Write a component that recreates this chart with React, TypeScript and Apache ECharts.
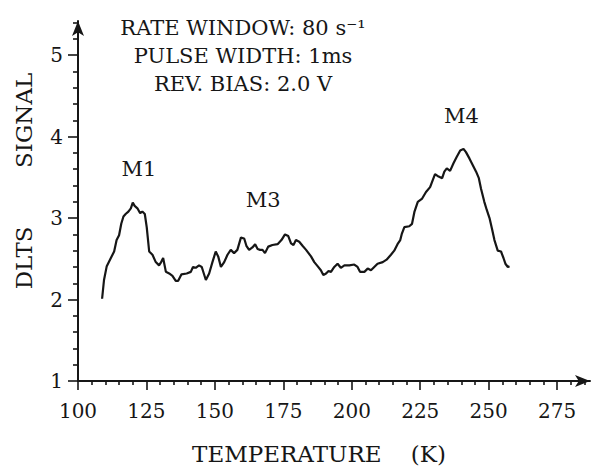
import React, { useEffect, useRef } from 'react';
import * as echarts from 'echarts';

const temperature = [
  108.8, 109.5, 110.5, 112.0, 113.2, 114.1, 115.0, 115.8, 116.6, 117.4, 118.4, 119.3, 120.0, 120.7, 121.7,
  122.7, 123.5, 124.4, 125.1, 126.0, 127.2, 128.4, 129.6, 130.2, 131.1, 132.1, 133.3, 134.5, 135.7, 136.6,
  137.8, 139.7, 141.2, 142.0, 143.0, 144.2, 145.2, 146.7, 147.9, 149.1, 150.3, 151.2, 152.2, 153.4, 154.6,
  155.8, 157.0, 158.2, 159.5, 160.7, 161.5, 162.5, 163.7, 164.7, 165.6, 166.5, 167.4, 168.3, 169.5, 171.0,
  172.9, 174.3, 175.6, 176.8, 177.8, 178.7, 179.6, 180.8, 182.0, 183.3, 185.1, 186.3, 187.5, 188.7, 189.6,
  190.6, 191.5, 192.4, 193.6, 194.8, 196.0, 197.3, 199.1, 200.9, 202.1, 203.0, 204.6, 205.8, 207.0, 208.2,
  209.4, 211.3, 212.7, 214.3, 215.5, 216.7, 217.7, 218.3, 219.2, 221.0, 222.0, 222.9, 224.1, 225.7, 227.1,
  228.6, 229.6, 230.4, 231.7, 233.0, 233.8, 234.7, 235.9, 237.1, 238.3, 239.6, 240.8, 241.7, 243.0, 244.2,
  245.4, 246.4, 247.2, 248.4, 249.3, 250.3, 251.2, 252.1, 253.3, 254.5, 255.4, 256.1, 257.0, 257.6,
];
const signal = [
  2.01, 2.24, 2.41, 2.51, 2.59, 2.73, 2.79, 2.93, 3.02, 3.05, 3.08, 3.12, 3.19, 3.15, 3.12,
  3.06, 3.08, 3.05, 2.89, 2.59, 2.55, 2.46, 2.42, 2.45, 2.51, 2.34, 2.32, 2.29, 2.23, 2.23,
  2.31, 2.32, 2.34, 2.40, 2.39, 2.42, 2.40, 2.24, 2.32, 2.46, 2.59, 2.53, 2.40, 2.46, 2.55,
  2.61, 2.57, 2.61, 2.76, 2.75, 2.66, 2.61, 2.64, 2.68, 2.62, 2.61, 2.61, 2.57, 2.65, 2.67,
  2.68, 2.73, 2.80, 2.78, 2.69, 2.67, 2.73, 2.71, 2.66, 2.61, 2.53, 2.46, 2.41, 2.36, 2.30,
  2.32, 2.35, 2.34, 2.40, 2.44, 2.39, 2.42, 2.42, 2.43, 2.40, 2.34, 2.34, 2.38, 2.36, 2.40,
  2.44, 2.46, 2.49, 2.55, 2.60, 2.68, 2.73, 2.81, 2.89, 2.90, 2.93, 3.08, 3.20, 3.24, 3.32,
  3.38, 3.47, 3.54, 3.51, 3.49, 3.57, 3.61, 3.58, 3.67, 3.75, 3.83, 3.85, 3.81, 3.73, 3.65,
  3.57, 3.49, 3.36, 3.20, 3.10, 3.00, 2.87, 2.73, 2.60, 2.59, 2.51, 2.44, 2.40, 2.41,
];

const xRange = [100, 287];
const yRange = [1, 5.42];
const xMajorTicks = [100, 125, 150, 175, 200, 225, 250, 275];
const xMinorTicks = [
  105, 110, 115, 120, 130, 135, 140, 145, 155, 160, 165, 170, 180, 185, 190, 195,
  205, 210, 215, 220, 230, 235, 240, 245, 255, 260, 265, 270, 280, 285,
];
const yMajorTicks = [1, 2, 3, 4, 5];
const yMinorTicks = [1.2, 1.4, 1.6, 1.8, 2.2, 2.4, 2.6, 2.8, 3.2, 3.4, 3.6, 3.8, 4.2, 4.4, 4.6, 4.8, 5.2, 5.4];

const peakNames = ['M1', 'M3', 'M4'];
const peakTemps = [122.3, 167.6, 240.0];
const peakLevels = [3.6, 3.22, 4.25];

const infoLines = ['RATE WINDOW: 80 s⁻¹', 'PULSE WIDTH: 1ms', 'REV. BIAS: 2.0 V'];
const xTitle = 'TEMPERATURE    (K)';
const yTitle = 'DLTS        SIGNAL';

const ink = '#161616';
const serif = '"DejaVu Serif", "Liberation Serif", serif';

export default function App() {
  const ref = useRef<HTMLDivElement>(null);

  useEffect(() => {
    document.body.style.margin = '0';
    if (!ref.current) return;
    const chart = echarts.init(ref.current, undefined, { renderer: 'svg' });

    const tickLine = { color: ink, width: 1.6 };

    const option: any = {
      animation: false,
      backgroundColor: '#ffffff',
      grid: { left: 78, right: 8, top: 21, bottom: 91, containLabel: false },
      xAxis: [
        {
          type: 'value',
          min: xRange[0],
          max: xRange[1],
          position: 'bottom',
          name: xTitle,
          nameLocation: 'middle',
          nameGap: 61,
          nameTextStyle: { fontFamily: serif, fontSize: 23, color: ink, padding: [0, 30, 0, 0] },
          axisLine: {
            show: true,
            onZero: false,
            symbol: ['none', 'arrow'],
            symbolSize: [9, 15],
            lineStyle: { color: ink, width: 2 },
          },
          axisTick: { show: true, inside: false, length: 9, customValues: xMajorTicks, lineStyle: tickLine },
          axisLabel: { show: true, customValues: xMajorTicks, margin: 20, fontFamily: serif, fontSize: 20, color: ink },
          splitLine: { show: false },
        },
        {
          type: 'value',
          min: xRange[0],
          max: xRange[1],
          position: 'bottom',
          axisLine: { show: false },
          axisTick: { show: true, inside: false, length: 4, customValues: xMinorTicks, lineStyle: tickLine },
          axisLabel: { show: false },
          splitLine: { show: false },
        },
      ],
      yAxis: [
        {
          type: 'value',
          min: yRange[0],
          max: yRange[1],
          position: 'left',
          name: yTitle,
          nameLocation: 'middle',
          nameRotate: 90,
          nameGap: 43,
          nameTextStyle: { fontFamily: serif, fontSize: 23, color: ink, padding: [0, 0, 0, 40] },
          axisLine: {
            show: true,
            onZero: false,
            symbol: ['none', 'arrow'],
            symbolSize: [9, 15],
            lineStyle: { color: ink, width: 2 },
          },
          axisTick: { show: true, inside: false, length: 10, customValues: yMajorTicks, lineStyle: tickLine },
          axisLabel: { show: true, customValues: yMajorTicks, margin: 15, fontFamily: serif, fontSize: 20, color: ink },
          splitLine: { show: false },
        },
        {
          type: 'value',
          min: yRange[0],
          max: yRange[1],
          position: 'left',
          axisLine: { show: false },
          axisTick: { show: true, inside: false, length: 5, customValues: yMinorTicks, lineStyle: tickLine },
          axisLabel: { show: false },
          splitLine: { show: false },
        },
      ],
      series: [
        {
          type: 'line',
          xAxisIndex: 0,
          yAxisIndex: 0,
          data: temperature.map((t, i) => [t, signal[i]]),
          symbol: 'none',
          showSymbol: false,
          smooth: false,
          lineStyle: { color: ink, width: 2.2 },
          markPoint: {
            symbol: 'circle',
            symbolSize: 0,
            itemStyle: { color: 'rgba(0,0,0,0)' },
            label: {
              show: true,
              position: 'inside',
              formatter: '{b}',
              fontFamily: serif,
              fontSize: 21,
              color: ink,
            },
            data: peakNames.map((n, i) => ({ name: n, coord: [peakTemps[i], peakLevels[i]] })),
          },
        },
      ],
      graphic: infoLines.map((text, i) => ({
        type: 'text',
        x: 243,
        y: 28 + i * 28,
        style: {
          text,
          fontFamily: serif,
          fontSize: 21,
          fill: ink,
          align: 'center',
          verticalAlign: 'middle',
        },
      })),
    };

    chart.setOption(option);
    return () => chart.dispose();
  }, []);

  return <div ref={ref} style={{ width: 598, height: 472 }} />;
}
